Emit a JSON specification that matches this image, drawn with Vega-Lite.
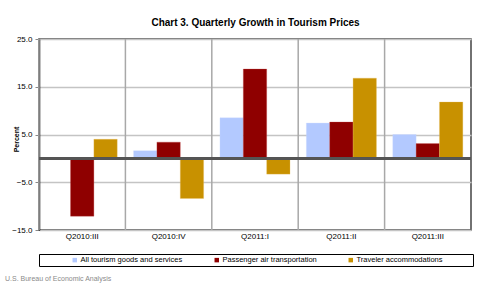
{
  "$schema": "https://vega.github.io/schema/vega-lite/v6.json",
  "width": 432,
  "height": 191,
  "autosize": "none",
  "padding": {"left": 39, "top": 39, "right": 9, "bottom": 58},
  "background": "white",
  "title": {
    "text": "U.S. Bureau of Economic Analysis",
    "orient": "bottom",
    "anchor": "start",
    "frame": "group",
    "dx": -34,
    "offset": 8,
    "fontSize": 7,
    "font": "Liberation Sans",
    "fontWeight": "normal",
    "color": "#8a8a8a"
  },
  "data": {
    "values": [
      {"quarter": "Q2010:III", "series": "All tourism goods and services", "value": 0},
      {"quarter": "Q2010:III", "series": "Passenger air transportation", "value": -12.1},
      {"quarter": "Q2010:III", "series": "Traveler accommodations", "value": 4.0},
      {"quarter": "Q2010:IV", "series": "All tourism goods and services", "value": 1.6},
      {"quarter": "Q2010:IV", "series": "Passenger air transportation", "value": 3.4},
      {"quarter": "Q2010:IV", "series": "Traveler accommodations", "value": -8.4},
      {"quarter": "Q2011:I", "series": "All tourism goods and services", "value": 8.5},
      {"quarter": "Q2011:I", "series": "Passenger air transportation", "value": 18.7},
      {"quarter": "Q2011:I", "series": "Traveler accommodations", "value": -3.3},
      {"quarter": "Q2011:II", "series": "All tourism goods and services", "value": 7.4},
      {"quarter": "Q2011:II", "series": "Passenger air transportation", "value": 7.6},
      {"quarter": "Q2011:II", "series": "Traveler accommodations", "value": 16.8},
      {"quarter": "Q2011:III", "series": "All tourism goods and services", "value": 5.0},
      {"quarter": "Q2011:III", "series": "Passenger air transportation", "value": 3.1},
      {"quarter": "Q2011:III", "series": "Traveler accommodations", "value": 11.8}
    ]
  },
  "config": {
    "font": "Liberation Sans",
    "view": {"stroke": "#444", "strokeWidth": 1.5},
    "axis": {"labelFont": "Liberation Sans", "titleFont": "Liberation Sans"}
  },
  "resolve": {"axis": {"x": "independent"}},
  "layer": [
    {
      "transform": [{"aggregate": [], "groupby": ["quarter"]}],
      "mark": {"type": "rule", "color": "#a8a8a8", "strokeWidth": 1.5},
      "encoding": {
        "x": {
          "field": "quarter",
          "type": "nominal",
          "sort": null,
          "bandPosition": 0,
          "scale": {"paddingInner": 0, "paddingOuter": 0},
          "axis": {
            "orient": "top",
            "title": "Chart 3. Quarterly Growth in Tourism Prices",
            "titleFontSize": 10,
            "titleFontWeight": "bold",
            "titleColor": "black",
            "titlePadding": 12,
            "labels": false,
            "ticks": false,
            "domain": false,
            "grid": false
          }
        }
      }
    },
    {
      "mark": {"type": "bar", "strokeWidth": 0.5, "strokeOpacity": 0.6},
      "encoding": {
        "x": {
          "field": "quarter",
          "type": "nominal",
          "sort": null,
          "axis": {
            "orient": "bottom",
            "title": null,
            "labelAngle": 0,
            "labelFontSize": 8,
            "labelColor": "black",
            "labelPadding": 2,
            "ticks": false,
            "domain": false,
            "grid": false
          }
        },
        "xOffset": {
          "field": "series",
          "type": "nominal",
          "sort": null,
          "scale": {"paddingInner": 0, "paddingOuter": 0.35}
        },
        "y": {
          "field": "value",
          "type": "quantitative",
          "scale": {"domain": [-15, 25], "nice": false, "zero": false},
          "axis": {
            "values": [25, 15, 5, -5, -15],
            "format": ".1f",
            "title": "Percent",
            "titleFontSize": 7,
            "titleFontWeight": "bold",
            "titleColor": "black",
            "titleX": -20,
            "titleY": 100,
            "labelFontSize": 8,
            "labelColor": "black",
            "labelPadding": 3,
            "tickSize": 4,
            "tickColor": "#888",
            "domainColor": "black",
            "domainWidth": 1.5,
            "grid": true,
            "gridColor": "#c4c4c4",
            "gridWidth": 1.5
          }
        },
        "color": {
          "field": "series",
          "type": "nominal",
          "sort": null,
          "scale": {
            "domain": ["All tourism goods and services", "Passenger air transportation", "Traveler accommodations"],
            "range": ["#b3c9ff", "#8f0000", "#c89100"]
          },
          "legend": {
            "title": "\u00a0",
            "titleOrient": "right",
            "titlePadding": 28,
            "titleFontSize": 8,
            "orient": "bottom",
            "direction": "horizontal",
            "offset": 14,
            "symbolType": "square",
            "symbolSize": 20,
            "symbolStrokeWidth": 0,
            "symbolOffset": 30,
            "labelFontSize": 7.5,
            "labelFont": "Liberation Sans",
            "labelColor": "black",
            "labelOffset": 2,
            "columnPadding": 0,
            "padding": 2,
            "strokeColor": "black",
            "labelLimit": 200
          }
        },
        "stroke": {
          "field": "series",
          "type": "nominal",
          "sort": null,
          "scale": {
            "domain": ["All tourism goods and services", "Passenger air transportation", "Traveler accommodations"],
            "range": ["#c8d8ff", "#c04040", "#e8c060"]
          },
          "legend": null
        }
      }
    },
    {
      "mark": {"type": "rule", "color": "#555", "strokeWidth": 2},
      "encoding": {"y": {"datum": 0}}
    }
  ]
}
